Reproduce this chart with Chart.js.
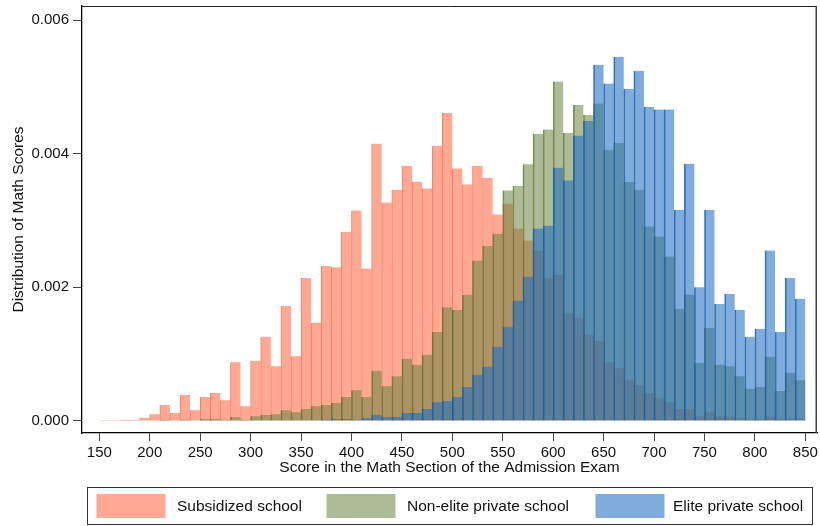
<!DOCTYPE html>
<html>
<head>
<meta charset="utf-8">
<script src="https://cdn.jsdelivr.net/npm/chart.js@4.4.1/dist/chart.umd.min.js"></script>
<style>
html,body{margin:0;padding:0;background:#fff;}
#wrap{width:820px;height:526px;position:relative;}
</style>
</head>
<body>
<div id="wrap"><canvas id="c" width="820" height="526"></canvas></div>
<script>
// ---- Data (bin starts, bin width 10) ----
const binStarts = [150,160,170,180,190,200,210,220,230,240,250,260,270,280,290,300,310,320,330,340,
  350,360,370,380,390,400,410,420,430,440,450,460,470,480,490,500,510,520,530,540,
  550,560,570,580,590,600,610,620,630,640,650,660,670,680,690,700,710,720,730,740,
  750,760,770,780,790,800,810,820,830,840];
const binWidth = 10;

const subsidized = [0.00001,0.00001,0.00002,0.00002,0.00005,0.0001,0.00024,0.00012,0.00039,0.00016,
  0.00036,0.00042,0.00031,0.00088,0.00022,0.0009,0.00126,0.00082,0.00172,0.00097,
  0.00214,0.00147,0.00232,0.0023,0.00283,0.00315,0.00228,0.00415,0.00327,0.00346,
  0.00382,0.00358,0.00348,0.00412,0.00461,0.00378,0.00354,0.00382,0.00364,0.00309,
  0.00325,0.00288,0.0027,0.00255,0.00214,0.00219,0.00162,0.00154,0.00129,0.0012,
  0.00088,0.00079,0.00061,0.00054,0.00042,0.00034,0.00028,0.00018,0.00018,0.00007,
  0.00013,0.00007,0.00007,0.00004,0.00003,0.00003,0.00007,0.00003,0.00004,0.00004];

const nonElite = [0.00001,0.00001,0.00001,0.00001,0.00001,0.00001,0.00002,0.00001,0.00002,0.00001,
  0.00003,0.00003,0.00002,0.00006,0.00002,0.00007,0.00009,0.0001,0.00016,0.00013,
  0.00018,0.00022,0.00024,0.00027,0.00036,0.00046,0.00036,0.00075,0.00052,0.00067,
  0.00093,0.00084,0.00099,0.00133,0.0017,0.00166,0.00189,0.0024,0.00262,0.0028,
  0.00345,0.00352,0.00384,0.0043,0.00436,0.00508,0.00431,0.00473,0.00458,0.00475,
  0.00406,0.00416,0.00358,0.00346,0.00291,0.00276,0.00246,0.00168,0.00189,0.00087,
  0.00139,0.00084,0.00082,0.00067,0.00048,0.00051,0.00096,0.00045,0.00072,0.00061];

const elite = [0,0,0,0,0,0,0.00001,0,0.00001,0,
  0.00001,0.00001,0.00001,0.00001,0.00001,0.00001,0.00001,0.00001,0.00001,0.00001,
  0.00001,0.00001,0.00002,0.00003,0.00003,0.00002,0.00004,0.00009,0.00006,0.00006,
  0.00012,0.00012,0.00018,0.00028,0.0003,0.00036,0.00051,0.00069,0.00081,0.00111,
  0.00141,0.0018,0.00216,0.00288,0.00292,0.00379,0.0036,0.00427,0.00449,0.00533,
  0.00505,0.00545,0.00497,0.00524,0.0047,0.00466,0.00466,0.00316,0.00385,0.002,
  0.00316,0.00175,0.0019,0.00166,0.00126,0.00138,0.00255,0.00133,0.00214,0.00183];

const seriesNames = ['Subsidized school','Non-elite private school','Elite private school'];
const xTickValues = [150,200,250,300,350,400,450,500,550,600,650,700,750,800,850];
const yTickValues = [0,0.002,0.004,0.006];
const xTitle = 'Score in the Math Section of the Admission Exam';
const yTitle = 'Distribution of Math Scores';

// ---- Styles ----
const FONT = '"Liberation Sans", Arial, Helvetica, sans-serif';
const fills = ['rgb(255,169,148)','rgba(106,131,64,0.55)','rgba(26,107,189,0.56)'];
const swatches = ['rgb(255,169,148)','rgb(173,187,150)','rgb(127,172,218)'];
const borders = ['rgba(255,105,75,0.9)','rgba(85,105,35,0.75)','rgba(20,95,175,0.85)'];

const toPts = arr => arr.map((v,i)=>({x: binStarts[i] + binWidth/2, y: v}));

const framePlugin = {
  id: 'frame',
  afterDatasetsDraw(chart){
    const {ctx, chartArea:a} = chart;
    ctx.save();
    ctx.strokeStyle = '#222';
    ctx.lineWidth = 1;
    ctx.beginPath();
    ctx.moveTo(a.left, a.top + 0.5);
    ctx.lineTo(a.right, a.top + 0.5);
    ctx.stroke();
    ctx.strokeStyle = '#444';
    ctx.lineWidth = 1.5;
    ctx.beginPath();
    ctx.moveTo(a.right - 0.75, a.top);
    ctx.lineTo(a.right - 0.75, a.bottom);
    ctx.stroke();
    ctx.restore();
  }
};

const legendPlugin = {
  id: 'boxLegend',
  afterDraw(chart){
    const ctx = chart.ctx;
    ctx.save();
    ctx.strokeStyle = '#333';
    ctx.lineWidth = 1;
    ctx.strokeRect(87.5, 487.5, 725, 37);
    const sw = [96.5, 326.5, 595.5];
    const tx = [177, 407, 673];
    ctx.font = '15.5px ' + FONT;
    ctx.textBaseline = 'middle';
    for (let i = 0; i < 3; i++) {
      ctx.fillStyle = swatches[i];
      ctx.fillRect(sw[i], 494, 69, 24);
      ctx.fillStyle = '#111';
      ctx.fillText(seriesNames[i], tx[i], 507);
    }
    ctx.restore();
  }
};

const ds = (i, arr, order) => ({
  label: seriesNames[i],
  data: toPts(arr),
  backgroundColor: fills[i],
  borderColor: borders[i],
  borderWidth: {left:1, right:0, top:0, bottom:0},
  borderSkipped: false,
  barPercentage: 1,
  categoryPercentage: 1,
  grouped: false,
  order: order
});

new Chart(document.getElementById('c'), {
  type: 'bar',
  data: {
    datasets: [ds(0, subsidized, 3), ds(1, nonElite, 2), ds(2, elite, 1)]
  },
  options: {
    responsive: false,
    animation: false,
    devicePixelRatio: 1,
    layout: {padding: {top: 6, right: 3, left: 0, bottom: 0}},
    plugins: {legend: {display: false}, tooltip: {enabled: false}},
    scales: {
      x: {
        type: 'linear',
        min: 132.8, max: 861.6,
        offset: false,
        grid: {display: true, offset: false, drawOnChartArea: false, drawTicks: true, tickLength: 8, tickColor: '#444', tickWidth: 1},
        border: {display: true, color: '#000', width: 1.3},
        ticks: {font: {family: FONT, size: 15}, color: '#111', padding: 3, autoSkip: false, maxRotation: 0,
                callback: v => String(v)},
        afterBuildTicks: s => { s.ticks = xTickValues.map(v => ({value: v})); },
        afterFit: s => { s.height = 93; s.paddingLeft = 0; s.paddingRight = 0; },
        title: {display: true, text: xTitle, font: {family: FONT, size: 15.5}, color: '#111', padding: {top: 0, bottom: 49}}
      },
      y: {
        type: 'linear',
        min: -0.00018, max: 0.00621,
        grid: {display: true, offset: false, drawOnChartArea: false, drawTicks: true, tickLength: 9, tickColor: '#444', tickWidth: 1},
        border: {display: true, color: '#000', width: 1.3},
        ticks: {font: {family: FONT, size: 15}, color: '#111', padding: 4, autoSkip: false,
                callback: v => Number(v).toFixed(3)},
        afterBuildTicks: s => { s.ticks = yTickValues.map(v => ({value: v})); },
        afterFit: s => { s.width = 82; s.paddingTop = 0; s.paddingBottom = 0; },
        title: {display: true, text: yTitle, font: {family: FONT, size: 15.5}, color: '#111', padding: {top: 9, bottom: 0}}
      }
    }
  },
  plugins: [framePlugin, legendPlugin]
});
</script>
</body>
</html>
